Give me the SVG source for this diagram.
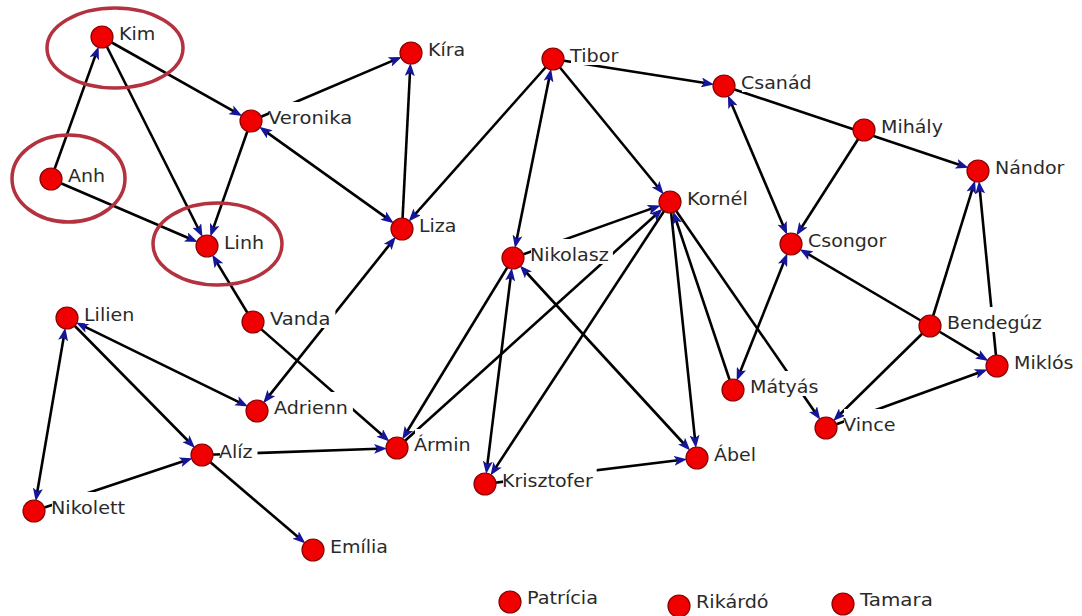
<svg xmlns="http://www.w3.org/2000/svg" width="1082" height="616" viewBox="0 0 1082 616">
<style>
.bg{fill:#fff}
#edges line{stroke:#000;stroke-width:2.6;fill:none}
#edges .a{marker-end:url(#ah)}
#edges .b{marker-start:url(#ah);marker-end:url(#ah)}
.node circle{fill:#f00000;stroke:#8a0000;stroke-width:1.2}
.node rect{fill:#fff}
.node text{font-family:"DejaVu Sans",Verdana,sans-serif;font-size:17.5px;fill:#2a2a2a}
.ring{fill:none;stroke:#b4323f;stroke-width:3.5}
</style>
<defs>
<marker id="ah" viewBox="0 0 13 10" refX="4" refY="5" markerWidth="13" markerHeight="10" markerUnits="userSpaceOnUse" orient="auto-start-reverse">
<path d="M0,0 L13,5 L0,10 L3,5 Z" fill="#15159a"/>
</marker>
</defs>
<rect class="bg" x="0" y="0" width="1082" height="616"/>
<g id="edges">
<line class="a" x1="51" y1="179" x2="95.6" y2="54.9"/>
<line class="a" x1="102" y1="37" x2="198.5" y2="229"/>
<line class="a" x1="102" y1="37" x2="234.4" y2="111.7"/>
<line class="a" x1="51" y1="179" x2="189.5" y2="238.5"/>
<line class="a" x1="251" y1="121" x2="213.3" y2="228.1"/>
<line class="b" x1="266.5" y1="132.1" x2="386.5" y2="217.9"/>
<line class="a" x1="251" y1="121" x2="393.5" y2="60.4"/>
<line class="a" x1="402" y1="229" x2="410" y2="72"/>
<line class="a" x1="553" y1="59" x2="414.6" y2="214.8"/>
<line class="b" x1="268.8" y1="396.1" x2="390.2" y2="243.9"/>
<line class="a" x1="253" y1="322" x2="216.8" y2="262.3"/>
<line class="a" x1="253" y1="322" x2="382.7" y2="435.5"/>
<line class="b" x1="84.1" y1="326.4" x2="239.9" y2="402.6"/>
<line class="a" x1="67" y1="318" x2="188.7" y2="441.5"/>
<line class="b" x1="63.8" y1="336.7" x2="37.2" y2="492.3"/>
<line class="a" x1="34" y1="511" x2="184" y2="461"/>
<line class="a" x1="202" y1="455" x2="298.6" y2="537.6"/>
<line class="a" x1="202" y1="455" x2="378" y2="448.7"/>
<line class="a" x1="513" y1="258" x2="406.9" y2="431.8"/>
<line class="a" x1="397" y1="448" x2="655.9" y2="214.7"/>
<line class="b" x1="549.3" y1="77.6" x2="516.7" y2="239.4"/>
<line class="b" x1="510.7" y1="276.9" x2="487.3" y2="465.1"/>
<line class="a" x1="670" y1="202" x2="495.4" y2="468.1"/>
<line class="b" x1="525.9" y1="272" x2="684.1" y2="444"/>
<line class="a" x1="485" y1="484" x2="678.1" y2="460.3"/>
<line class="a" x1="670" y1="202" x2="695" y2="439.1"/>
<line class="a" x1="733" y1="390" x2="676" y2="220"/>
<line class="a" x1="670" y1="202" x2="815.2" y2="412.4"/>
<line class="a" x1="513" y1="258" x2="652.1" y2="208.4"/>
<line class="a" x1="553" y1="59" x2="658" y2="187.3"/>
<line class="a" x1="553" y1="59" x2="705.2" y2="83"/>
<line class="b" x1="731.4" y1="103.5" x2="783.6" y2="226.5"/>
<line class="a" x1="724" y1="86" x2="960" y2="165"/>
<line class="a" x1="864" y1="130" x2="801.2" y2="228"/>
<line class="b" x1="784" y1="261.7" x2="740" y2="372.3"/>
<line class="a" x1="930" y1="326" x2="807.4" y2="253.7"/>
<line class="a" x1="930" y1="326" x2="972.4" y2="189.1"/>
<line class="a" x1="997" y1="366" x2="979.8" y2="189.9"/>
<line class="a" x1="930" y1="326" x2="980.7" y2="356.3"/>
<line class="a" x1="826" y1="428" x2="979.1" y2="372.5"/>
<line class="a" x1="930" y1="326" x2="839.6" y2="414.7"/>
</g>
<g id="n-kim" class="node"><rect x="120" y="18" width="39.3" height="25"/><circle cx="102" cy="37" r="11"/><text x="119" y="40" textLength="36.3" lengthAdjust="spacingAndGlyphs">Kim</text></g>
<g id="n-anh" class="node"><rect x="69" y="160" width="40.1" height="25"/><circle cx="51" cy="179" r="11"/><text x="68" y="182" textLength="37.1" lengthAdjust="spacingAndGlyphs">Anh</text></g>
<g id="n-linh" class="node"><rect x="225" y="227" width="43" height="25"/><circle cx="207" cy="246" r="11"/><text x="224" y="249" textLength="40" lengthAdjust="spacingAndGlyphs">Linh</text></g>
<g id="n-veronika" class="node"><rect x="269" y="102" width="87.1" height="25"/><circle cx="251" cy="121" r="11"/><text x="268" y="124" textLength="84.1" lengthAdjust="spacingAndGlyphs">Veronika</text></g>
<g id="n-kira" class="node"><rect x="429" y="34" width="40.2" height="25"/><circle cx="411" cy="53" r="11"/><text x="428" y="56" textLength="37.2" lengthAdjust="spacingAndGlyphs">Kíra</text></g>
<g id="n-tibor" class="node"><rect x="571" y="40" width="51.4" height="25"/><circle cx="553" cy="59" r="11"/><text x="570" y="62" textLength="48.4" lengthAdjust="spacingAndGlyphs">Tibor</text></g>
<g id="n-liza" class="node"><rect x="420" y="210" width="40.5" height="25"/><circle cx="402" cy="229" r="11"/><text x="419" y="232" textLength="37.5" lengthAdjust="spacingAndGlyphs">Liza</text></g>
<g id="n-nikolasz" class="node"><rect x="531" y="239" width="81.9" height="25"/><circle cx="513" cy="258" r="11"/><text x="530" y="261" textLength="78.9" lengthAdjust="spacingAndGlyphs">Nikolasz</text></g>
<g id="n-kornel" class="node"><rect x="688" y="183" width="63.9" height="25"/><circle cx="670" cy="202" r="11"/><text x="687" y="205" textLength="60.9" lengthAdjust="spacingAndGlyphs">Kornél</text></g>
<g id="n-csanad" class="node"><rect x="742" y="67" width="73.6" height="25"/><circle cx="724" cy="86" r="11"/><text x="741" y="89" textLength="70.6" lengthAdjust="spacingAndGlyphs">Csanád</text></g>
<g id="n-mihaly" class="node"><rect x="882" y="111" width="64.9" height="25"/><circle cx="864" cy="130" r="11"/><text x="881" y="133" textLength="61.9" lengthAdjust="spacingAndGlyphs">Mihály</text></g>
<g id="n-nandor" class="node"><rect x="996" y="152" width="72.4" height="25"/><circle cx="978" cy="171" r="11"/><text x="995" y="174" textLength="69.4" lengthAdjust="spacingAndGlyphs">Nándor</text></g>
<g id="n-csongor" class="node"><rect x="809" y="225" width="81.3" height="25"/><circle cx="791" cy="244" r="11"/><text x="808" y="247" textLength="78.3" lengthAdjust="spacingAndGlyphs">Csongor</text></g>
<g id="n-bendeguz" class="node"><rect x="948" y="307" width="97.6" height="25"/><circle cx="930" cy="326" r="11"/><text x="947" y="329" textLength="94.6" lengthAdjust="spacingAndGlyphs">Bendegúz</text></g>
<g id="n-miklos" class="node"><rect x="1015" y="347" width="62.5" height="25"/><circle cx="997" cy="366" r="11"/><text x="1014" y="369" textLength="59.5" lengthAdjust="spacingAndGlyphs">Miklós</text></g>
<g id="n-matyas" class="node"><rect x="751" y="371" width="71.3" height="25"/><circle cx="733" cy="390" r="11"/><text x="750" y="393" textLength="68.3" lengthAdjust="spacingAndGlyphs">Mátyás</text></g>
<g id="n-vince" class="node"><rect x="844" y="409" width="55.5" height="25"/><circle cx="826" cy="428" r="11"/><text x="843" y="431" textLength="52.5" lengthAdjust="spacingAndGlyphs">Vince</text></g>
<g id="n-abel" class="node"><rect x="715" y="439" width="45" height="25"/><circle cx="697" cy="458" r="11"/><text x="714" y="461" textLength="42" lengthAdjust="spacingAndGlyphs">Ábel</text></g>
<g id="n-krisztofer" class="node"><rect x="503" y="465" width="93.7" height="25"/><circle cx="485" cy="484" r="11"/><text x="502" y="487" textLength="90.7" lengthAdjust="spacingAndGlyphs">Krisztofer</text></g>
<g id="n-armin" class="node"><rect x="415" y="429" width="59.6" height="25"/><circle cx="397" cy="448" r="11"/><text x="414" y="451" textLength="56.6" lengthAdjust="spacingAndGlyphs">Ármin</text></g>
<g id="n-vanda" class="node"><rect x="271" y="303" width="64.4" height="25"/><circle cx="253" cy="322" r="11"/><text x="270" y="325" textLength="60.4" lengthAdjust="spacingAndGlyphs">Vanda</text></g>
<g id="n-adrienn" class="node"><rect x="275" y="392" width="77.9" height="25"/><circle cx="257" cy="411" r="11"/><text x="274" y="414" textLength="73.9" lengthAdjust="spacingAndGlyphs">Adrienn</text></g>
<g id="n-lilien" class="node"><rect x="85" y="299" width="53.2" height="25"/><circle cx="67" cy="318" r="11"/><text x="84" y="321" textLength="50.2" lengthAdjust="spacingAndGlyphs">Lilien</text></g>
<g id="n-aliz" class="node"><rect x="220" y="436" width="37.5" height="25"/><circle cx="202" cy="455" r="11"/><text x="219" y="458" textLength="33.5" lengthAdjust="spacingAndGlyphs">Alíz</text></g>
<g id="n-nikolett" class="node"><rect x="52" y="492" width="77" height="25"/><circle cx="34" cy="511" r="11"/><text x="51" y="514" textLength="74" lengthAdjust="spacingAndGlyphs">Nikolett</text></g>
<g id="n-emilia" class="node"><rect x="331" y="531" width="61" height="25"/><circle cx="313" cy="550" r="11"/><text x="330" y="553" textLength="58" lengthAdjust="spacingAndGlyphs">Emília</text></g>
<g id="n-patricia" class="node"><circle cx="510" cy="602" r="11"/><text x="527" y="604" textLength="71" lengthAdjust="spacingAndGlyphs">Patrícia</text></g>
<g id="n-rikardo" class="node"><circle cx="679" cy="606" r="11"/><text x="696" y="608" textLength="72.6" lengthAdjust="spacingAndGlyphs">Rikárdó</text></g>
<g id="n-tamara" class="node"><circle cx="843" cy="604" r="11"/><text x="860" y="606" textLength="72.9" lengthAdjust="spacingAndGlyphs">Tamara</text></g>
<g id="highlights">
<ellipse class="ring" cx="115" cy="48" rx="68" ry="40"/>
<ellipse class="ring" cx="68.5" cy="178.5" rx="56.5" ry="43.5"/>
<ellipse class="ring" cx="217.5" cy="244" rx="64.5" ry="41"/>
</g>
</svg>
